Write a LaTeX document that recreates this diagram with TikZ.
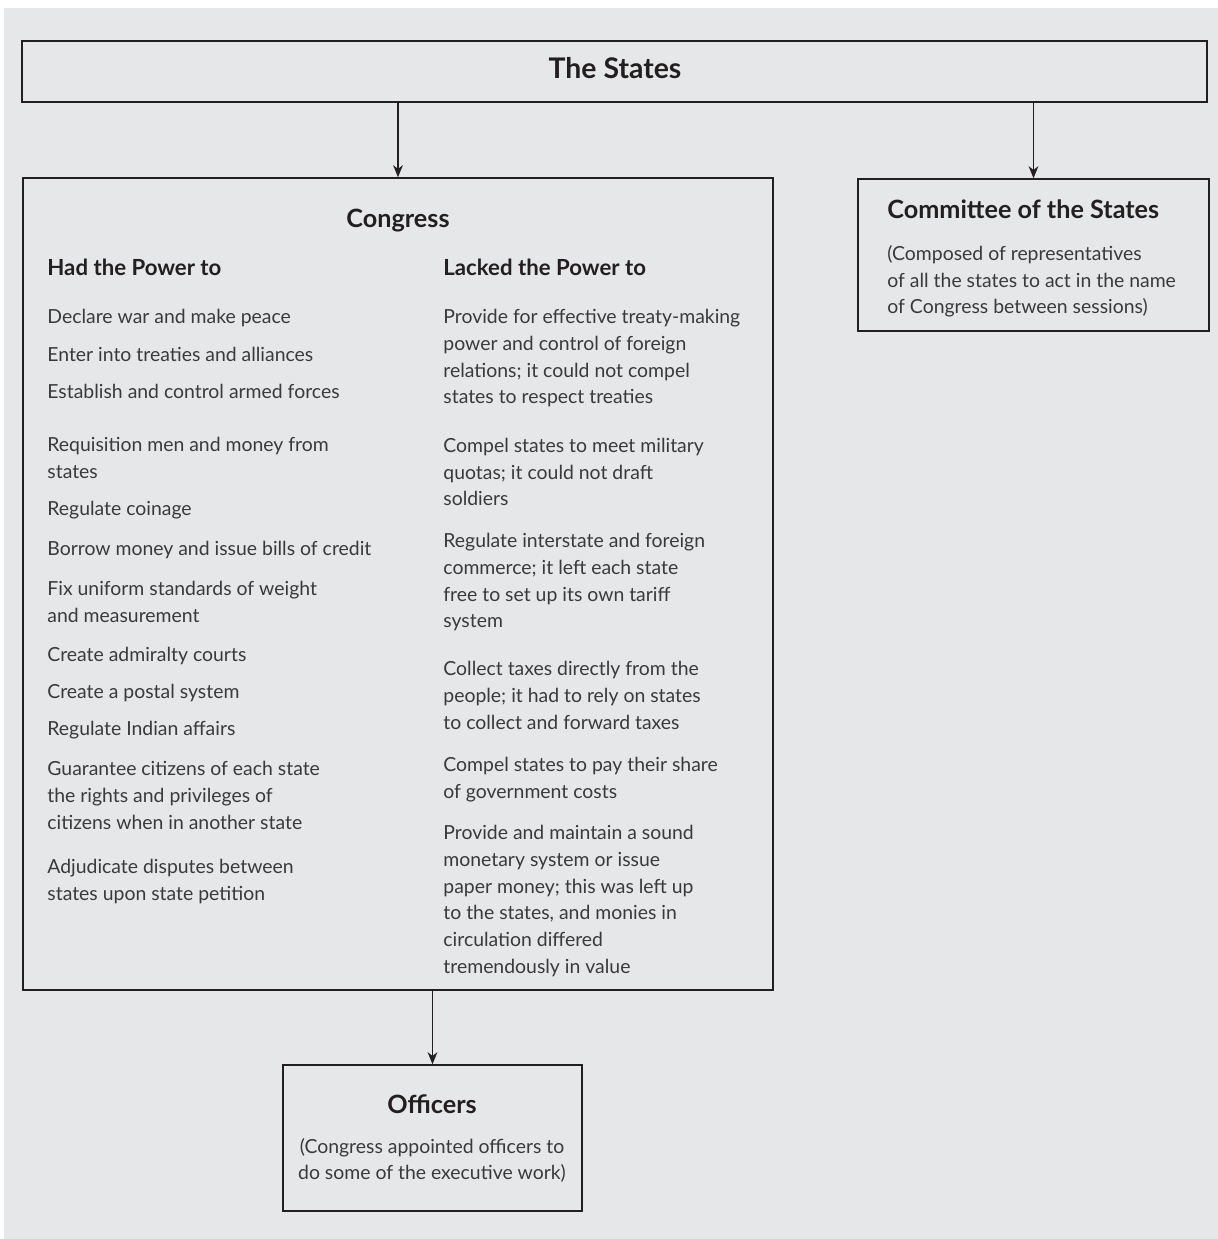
\documentclass[tikz,border=0pt]{standalone}
\usepackage{fontspec}
\setmainfont{Lato}
\usetikzlibrary{arrows.meta}
\definecolor{paper}{HTML}{E6E7E8}
\definecolor{ink}{HTML}{231F20}
\definecolor{body}{HTML}{3A3A3C}
\tikzset{
	box/.style={draw=ink, line width=0.7pt, inner sep=0pt},
	head/.style={font=\fontsize{12.6}{15}\selectfont\bfseries, text=ink, inner sep=0pt},
	sub/.style={font=\fontsize{11.1}{13}\selectfont\bfseries, text=ink, inner sep=0pt, anchor=base west},
	item/.style={font=\fontsize{9.7}{13.35}\selectfont, text=body, inner sep=0pt, anchor=north west, align=left,
		yshift=10pt, execute at begin node={\rule{0pt}{10pt}}},
	block/.style={font=\fontsize{9.7}{13.35}\selectfont, text=body, inner sep=0pt, anchor=north west, align=left,
		yshift=7pt},
	link/.style={draw=ink, line width=0.7pt, -{Stealth[length=6pt,width=4.8pt,inset=1.8pt]}}
}

\begin{document}
\begin{tikzpicture}[x=0.5pt,y=-0.5pt]
			%%%%% START %%%%%
			\useasboundingbox (0,0) rectangle (1218,1239);
			\fill[white] (0,0) rectangle (1218,1239);
			\fill[paper] (4,8) rectangle (1218,1239);
			
			\node[box, minimum width=592.5pt, minimum height=30.5pt] (states) at (614.5,71.5) {};
			\node[head, font=\fontsize{14.2}{16}\selectfont\bfseries, anchor=base] (statesT) at (615,78) {The States};
			
			\node[box, minimum width=375pt, minimum height=406pt] (congress) at (398,584) {};
			\node[head, anchor=base] (congressT) at (398,227) {Congress};
			
			\node[box, minimum width=175.5pt, minimum height=76pt] (committee) at (1033.5,255) {};
			\node[head, anchor=base west] (committeeT) at (887,218) {Committee of the States};
			\node[block] (committeeB) at (887,259) {(Composed of representatives\\of all the states to act in the name\\of Congress between sessions)};
			
			\node[box, minimum width=149.5pt, minimum height=73pt] (officers) at (432.5,1138) {};
			\node[head, anchor=base] (officersT) at (432,1113) {Officers};
			\node[block, anchor=north, align=center, font=\fontsize{9.7}{13}\selectfont] (officersB) at (432,1152) {(Congress appointed officers to\\do some of the executive work)};
			
			\draw[link] (states.south -| congress.north) -- (congress.north);
			\draw[link] (states.south -| committee.north) -- (committee.north);
			\draw[link] (congress.south -| officers.north) -- (officers.north);
			
			% had the power to
			\node[sub] (had) at (47,275) {Had the Power to};
			\node[item] (had1) at (47,323) {Declare war and make peace};
			\node[item] (had2) at (47,361) {Enter into treaties and alliances};
			\node[item] (had3) at (47,398) {Establish and control armed forces};
			\node[block] (had4) at (47,451) {Requisition men and money from\\states};
			\node[item] (had5) at (47,515) {Regulate coinage};
			\node[item] (had6) at (47,555) {Borrow money and issue bills of credit};
			\node[block] (had7) at (47,595) {Fix uniform standards of weight\\and measurement};
			\node[item] (had8) at (47,661) {Create admiralty courts};
			\node[item] (had9) at (47,698) {Create a postal system};
			\node[item] (had10) at (47,735) {Regulate Indian affairs};
			\node[block] (had11) at (47,775) {Guarantee citizens of each state\\the rights and privileges of\\citizens when in another state};
			\node[block] (had12) at (47,873) {Adjudicate disputes between\\states upon state petition};
			
			% lacked the power to
			\node[sub] (lacked) at (443,275) {Lacked the Power to};
			\node[block] (lacked1) at (443,323) {Provide for effective treaty-making\\power and control of foreign\\relations; it could not compel\\states to respect treaties};
			\node[block] (lacked2) at (443,451.7) {Compel states to meet military\\quotas; it could not draft\\soldiers};
			\node[block] (lacked3) at (443,547) {Regulate interstate and foreign\\commerce; it left each state\\free to set up its own tariff\\system};
			\node[block] (lacked4) at (443,675) {Collect taxes directly from the\\people; it had to rely on states\\to collect and forward taxes};
			\node[block] (lacked5) at (443,771) {Compel states to pay their share\\of government costs};
			\node[block] (lacked6) at (443,839) {Provide and maintain a sound\\monetary system or issue\\paper money; this was left up\\to the states, and monies in\\circulation differed\\tremendously in value};
			
			%%%%% END %%%%%
\end{tikzpicture}
\end{document}
